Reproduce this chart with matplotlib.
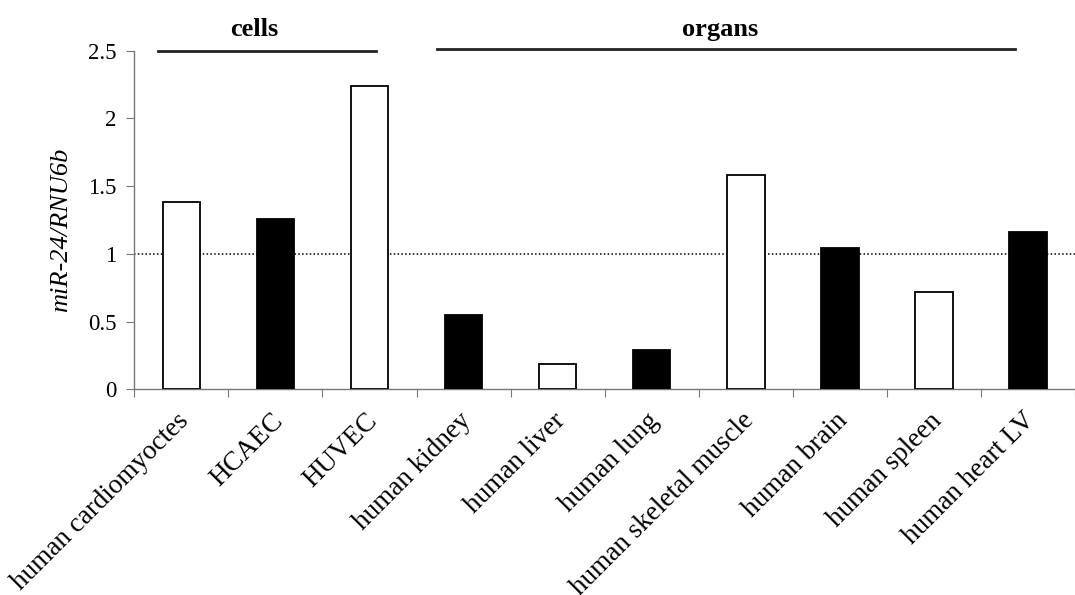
import matplotlib
matplotlib.use("Agg")
import matplotlib.pyplot as plt
import matplotlib.transforms as mtransforms

# values
labels = ["human cardiomyoctes", "HCAEC", "HUVEC", "human kidney", "human liver",
          "human lung", "human skeletal muscle", "human brain", "human spleen",
          "human heart LV"]
ratio = [1.38, 1.26, 2.24, 0.55, 0.19, 0.29, 1.58, 1.04, 0.72, 1.16]
filled = [False, True, False, True, False, True, False, True, False, True]

plt.rcParams["font.family"] = ["Liberation Serif", "DejaVu Serif"]

W, H = 1075, 595
fig = plt.figure(figsize=(W / 100, H / 100), dpi=100)
# axes in pixels: left 134, right 1088 (cropped at figure edge), y0 389, y2.5 51
x0, x1, yb, yt = 134.3, 1075.0, 389.3, 50.7
ax = fig.add_axes([x0 / W, 1 - yb / H, (x1 - x0) / W, (yb - yt) / H])

xs = range(len(labels))
colors = ["black" if f else "white" for f in filled]
ax.bar(xs, ratio, width=0.4, color=colors, edgecolor="black", linewidth=1.3, zorder=3)
ax.axhline(1, color="black", ls=(0, (1, 1.5)), lw=1.1, zorder=2)

step = 95.5
ax.set_xlim(-0.5, -0.5 + (x1 - x0) / step)
ax.set_ylim(0, 2.5)
ax.set_yticks([0, 0.5, 1, 1.5, 2, 2.5])
ax.set_yticklabels(["0", "0.5", "1", "1.5", "2", "2.5"], fontsize=16.5)

ax.set_xticks([i - 0.5 for i in range(len(labels) + 1)])
ax.set_xticklabels([])
ax.set_xticks(list(xs), minor=True)
ax.set_xticklabels(labels, minor=True, rotation=45, ha="right", va="top",
                   rotation_mode="anchor", fontsize=19.5)
ax.tick_params(axis="x", which="minor", length=0, pad=15)
ax.tick_params(axis="x", which="major", direction="out", length=6, color="#777777")
ax.tick_params(axis="y", direction="out", length=6, color="#777777", pad=7)

shift = mtransforms.ScaledTranslation(-5 / 100, 2 / 100, fig.dpi_scale_trans)
for lab in ax.get_xticklabels(minor=True):
    lab.set_transform(lab.get_transform() + shift)

for s in ["top", "right"]:
    ax.spines[s].set_visible(False)
for s in ["left", "bottom"]:
    ax.spines[s].set_color("#777777")
    ax.spines[s].set_linewidth(1.0)

ax.set_ylabel("miR-24/RNU6b", fontsize=19, style="italic")
ax.yaxis.set_label_coords(-0.066, 0.47)

# group brackets above the plot
trans = ax.get_xaxis_transform()
ax.plot([-0.25, 2.07], [1.0, 1.0], color="#222222", lw=2, transform=trans, clip_on=False)
ax.plot([2.72, 8.86], [1.005, 1.005], color="#222222", lw=2, transform=trans, clip_on=False)
ax.text(0.77, 1.043, "cells", transform=trans, ha="center", va="baseline",
        fontsize=19, fontweight="bold")
ax.text(5.73, 1.043, "organs", transform=trans, ha="center", va="baseline",
        fontsize=19, fontweight="bold")

fig.savefig("out.png", dpi=100)
